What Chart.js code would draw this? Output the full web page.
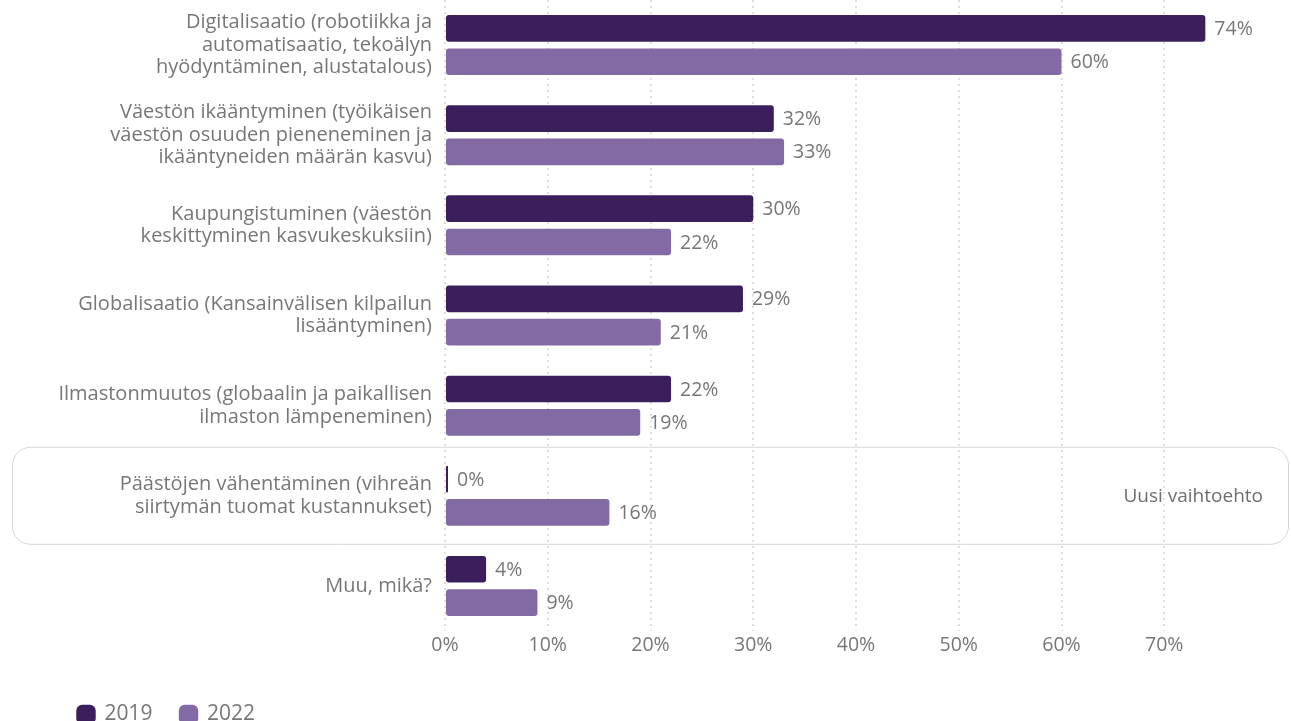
<!DOCTYPE html>
<html>
<head>
<meta charset="utf-8">
<script src="https://cdn.jsdelivr.net/npm/chart.js@4/dist/chart.umd.min.js"></script>
<style>
  html, body { margin: 0; padding: 0; background: #fff; }
  #wrap { width: 1291px; height: 721px; }
</style>
</head>
<body>
<div id="wrap"><canvas id="trendsChart"></canvas></div>
<script>
var categories = [
    ['Digitalisaatio (robotiikka ja', 'automatisaatio, tekoälyn', 'hyödyntäminen, alustatalous)'],
    ['Väestön ikääntyminen (työikäisen', 'väestön osuuden pieneneminen ja', 'ikääntyneiden määrän kasvu)'],
    ['Kaupungistuminen (väestön', 'keskittyminen kasvukeskuksiin)'],
    ['Globalisaatio (Kansainvälisen kilpailun', 'lisääntyminen)'],
    ['Ilmastonmuutos (globaalin ja paikallisen', 'ilmaston lämpeneminen)'],
    ['Päästöjen vähentäminen (vihreän', 'siirtymän tuomat kustannukset)'],
    'Muu, mikä?'
]
var values2019 = [74, 32, 30, 29, 22, 0, 4]
var values2022 = [60, 33, 22, 21, 19, 16, 9]
var xTicks = [0, 10, 20, 30, 40, 50, 60, 70]
var newOptionIndex = 5
var newOptionText = 'Uusi vaihtoehto'

var textColor = '#777777'
var fontFamily = '"Open Sans", sans-serif'

// percent labels after each bar
var valueLabels = {
    id: 'valueLabels',
    afterDatasetsDraw: function(chart) {
        var ctx = chart.ctx
        ctx.save()
        ctx.font = '19.5px ' + fontFamily
        ctx.fillStyle = textColor
        ctx.textAlign = 'left'
        ctx.textBaseline = 'middle'
        chart.data.datasets.forEach(function(ds, i) {
            chart.getDatasetMeta(i).data.forEach(function(bar, j) {
                ctx.fillText(ds.data[j] + '%', bar.x + 9, bar.y + 1)
            })
        })
        ctx.restore()
    }
}

// rounded frame around the new answer option
var newOptionBox = {
    id: 'newOptionBox',
    afterDraw: function(chart) {
        var ctx = chart.ctx
        var y = chart.scales.y.getPixelForValue(newOptionIndex)
        var top = y - 49, h = 97, left = 12, right = 1288, r = 18
        ctx.save()
        ctx.strokeStyle = '#d6d6d6'
        ctx.lineWidth = 1
        ctx.beginPath()
        ctx.roundRect(left + 0.5, top + 0.5, right - left, h, r)
        ctx.stroke()
        ctx.font = '19px ' + fontFamily
        ctx.fillStyle = '#6e6e6e'
        ctx.textAlign = 'right'
        ctx.textBaseline = 'middle'
        ctx.fillText(newOptionText, 1263, y + 1)
        ctx.restore()
    }
}

var myChart = new Chart(document.getElementById('trendsChart'), {
    type: 'bar',
    data: {
        labels: categories,
        datasets: [{
            label: '2019',
            data: values2019,
            backgroundColor: '#3b1f5c',
            borderRadius: 3,
            borderSkipped: false,
            minBarLength: 3,
            categoryPercentage: 0.74,
            barPercentage: 0.8
        }, {
            label: '2022',
            data: values2022,
            backgroundColor: '#826aa4',
            borderRadius: 3,
            borderSkipped: false,
            categoryPercentage: 0.74,
            barPercentage: 0.8
        }]
    },
    options: {
        indexAxis: 'y',
        responsive: true,
        maintainAspectRatio: false,
        animation: false,
        layout: { padding: { left: 50, right: 24, top: -6, bottom: -14 } },
        scales: {
            x: {
                min: 0,
                max: 80,
                afterBuildTicks: function(scale) {
                    scale.ticks = xTicks.map(function(v) { return { value: v } })
                },
                afterFit: function(scale) { scale.height = 45 },
                grid: {
                    color: '#dedede',
                    lineWidth: 2,
                    drawTicks: false
                },
                border: { display: false, dash: [2, 4] },
                ticks: {
                    padding: 3,
                    color: textColor,
                    font: { family: fontFamily, size: 19.5 },
                    callback: function(v) { return v + '%' }
                }
            },
            y: {
                grid: { display: false },
                border: { display: false },
                afterFit: function(scale) {
                    scale.width = 395
                    scale.paddingTop = 0
                    scale.paddingBottom = 0
                },
                ticks: {
                    padding: 5,
                    color: textColor,
                    font: { family: fontFamily, size: 20, lineHeight: 1.125 }
                }
            }
        },
        plugins: {
            legend: {
                position: 'bottom',
                align: 'start',
                labels: {
                    usePointStyle: true,
                    pointStyle: 'rectRounded',
                    boxWidth: 16,
                    boxHeight: 16,
                    padding: 28,
                    color: textColor,
                    font: { family: fontFamily, size: 21 }
                }
            },
            tooltip: { enabled: false }
        }
    },
    plugins: [valueLabels, newOptionBox]
})
</script>
</body>
</html>
